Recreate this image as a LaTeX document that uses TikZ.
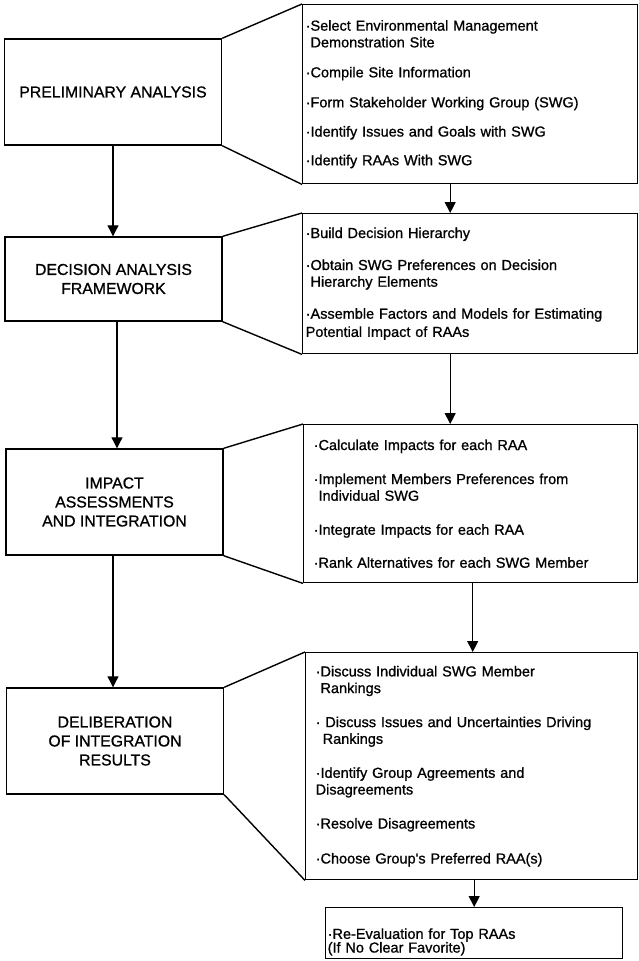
\documentclass[tikz,border=0pt]{standalone}
\usepackage{fontspec}
\setmainfont{Liberation Sans}[FakeBold=0.9]
\usetikzlibrary{arrows.meta}

\begin{document}
\begin{tikzpicture}[
						x=1pt, y=-1pt,
						stage/.style={rectangle, draw=black, line width=1.4pt, minimum width=217pt, align=center, font=\fontsize{15.8}{19}\selectfont},
						tasks/.style={rectangle, draw=black, line width=1.4pt, anchor=north west, align=left, inner ysep=0pt, font=\fontsize{14.5}{16.7}\selectfont},
						funnel_line/.style={line width=1.4pt},
						flow_arrow/.style={-{Triangle[length=11pt, width=11pt]}, line width=1.1pt}
						]
						\useasboundingbox (0,0) rectangle (639,961);
						
						% Stages of the process (left column)
						\node[stage, minimum height=106pt] (prelim) at (113,92) {PRELIMINARY ANALYSIS};
						\node[stage, minimum height=84pt] (frame) at (113.5,279) {DECISION ANALYSIS\\FRAMEWORK};
						\node[stage, minimum height=106pt] (impact) at (114.5,502) {IMPACT\\ASSESSMENTS\\AND INTEGRATION};
						\node[stage, minimum height=106pt] (delib) at (115,741) {DELIBERATION\\OF INTEGRATION\\RESULTS};
						
						% Task lists of each stage (right column)
						\node[tasks, text width=329pt, inner xsep=3pt, minimum height=179pt] (listPre) at (302,4) {%
							·Select Environmental Management\\
							\hphantom{·}Demonstration Site\\[13.3pt]
							·Compile Site Information\\[13.3pt]
							·Form Stakeholder Working Group (SWG)\\[12.5pt]
							·Identify Issues and Goals with SWG\\[12pt]
							·Identify RAAs With SWG};
						\node[tasks, text width=329pt, inner xsep=3pt, minimum height=140pt] (listFrame) at (302,213) {%
							·Build Decision Hierarchy\\[15.3pt]
							·Obtain SWG Preferences on Decision\\
							\hphantom{·}Hierarchy Elements\\[15.3pt]
							·Assemble Factors and Models for Estimating\\[1.5pt]
							Potential Impact of RAAs};
						\node[tasks, text width=314pt, inner xsep=10pt, minimum height=158pt] (listImp) at (303,424) {%
							·Calculate Impacts for each RAA\\[17.3pt]
							·Implement Members Preferences from\\
							\hphantom{·}Individual SWG\\[17.3pt]
							·Integrate Impacts for each RAA\\[16.3pt]
							·Rank Alternatives for each SWG Member};
						\node[tasks, text width=312pt, inner xsep=10pt, minimum height=227pt] (listDel) at (305,652) {%
							·Discuss Individual SWG Member\\
							\hphantom{·}Rankings\\[17.3pt]
							· Discuss Issues and Uncertainties Driving\\
							\hspace*{7pt}Rankings\\[17.3pt]
							·Identify Group Agreements and\\
							Disagreements\\[17.3pt]
							·Resolve Disagreements\\[18.3pt]
							·Choose Group\textquotesingle s Preferred RAA(s)};
						\node[tasks, text width=293pt, inner xsep=2pt, minimum height=51pt] (reeval) at (325,907) {%
							\rule{0pt}{28pt}·Re-Evaluation for Top RAAs\\[-3pt]
							(If No Clear Favorite)};
						
						% Funnel lines from stage to task list
						\draw[funnel_line] (prelim.north east) -- (listPre.north west);
						\draw[funnel_line] (prelim.south east) -- (listPre.south west);
						\draw[funnel_line] (frame.north east) -- (listFrame.north west);
						\draw[funnel_line] (frame.south east) -- (listFrame.south west);
						\draw[funnel_line] (impact.north east) -- (listImp.north west);
						\draw[funnel_line] (impact.south east) -- (listImp.south west);
						\draw[funnel_line] (delib.north east) -- (listDel.north west);
						\draw[funnel_line] (delib.south east) -- (listDel.south west);
						
						% Flow between stages
						\draw[flow_arrow] (prelim.south) -- (prelim.south |- frame.north);
						\draw[flow_arrow] ([xshift=3.5pt]frame.south) -- ([xshift=3.5pt]frame.south |- impact.north);
						\draw[flow_arrow] ([xshift=-1.5pt]impact.south) -- ([xshift=-1.5pt]impact.south |- delib.north);
						
						% Flow between task lists
						\draw[flow_arrow] ([xshift=-20pt]listPre.south) -- ([xshift=-20pt]listPre.south |- listFrame.north);
						\draw[flow_arrow] ([xshift=-20pt]listFrame.south) -- ([xshift=-20pt]listFrame.south |- listImp.north);
						\draw[flow_arrow] ([xshift=2pt]listImp.south) -- ([xshift=2pt]listImp.south |- listDel.north);
						\draw[flow_arrow] (listDel.south -| reeval.north) -- (reeval.north);
						
					\end{tikzpicture}
\end{document}
